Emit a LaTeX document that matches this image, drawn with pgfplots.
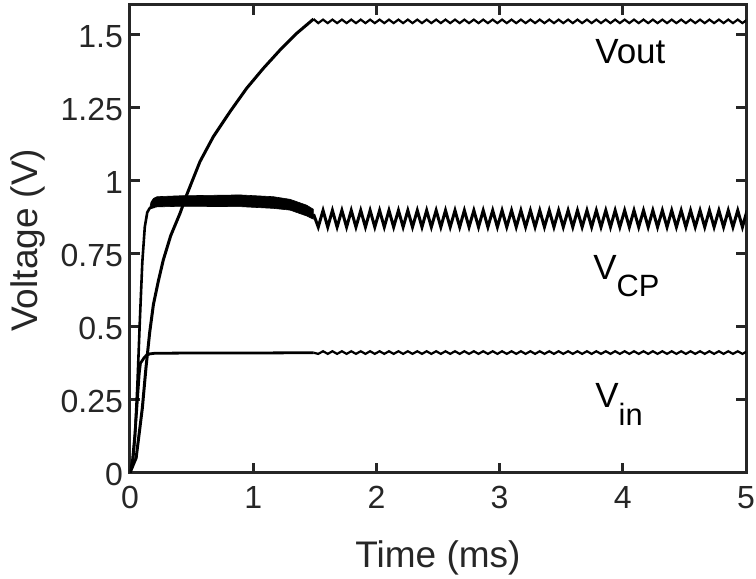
\documentclass[border=0pt]{standalone}
\usepackage{fontspec}
\setmainfont{Liberation Sans}
\usepackage{pgfplots}
\usepackage{pgfplotstable}
\pgfplotsset{compat=1.18}
\definecolor{axgray}{HTML}{262626}

% steady-state ripple (t in ms, voltages in V)
\pgfplotstableread{
t vcp vout vin
1.490 0.884 1.552 0.410
1.528 0.840 1.538 0.406
1.567 0.897 1.550 0.415
1.605 0.840 1.538 0.406
1.643 0.897 1.550 0.415
1.681 0.840 1.538 0.406
1.720 0.897 1.550 0.415
1.758 0.840 1.538 0.406
1.796 0.897 1.550 0.415
1.834 0.840 1.538 0.406
1.873 0.897 1.550 0.415
1.911 0.840 1.538 0.406
1.949 0.897 1.550 0.415
1.987 0.840 1.538 0.406
2.026 0.897 1.550 0.415
2.064 0.840 1.538 0.406
2.102 0.897 1.550 0.415
2.140 0.840 1.538 0.406
2.179 0.897 1.550 0.415
2.217 0.840 1.538 0.406
2.255 0.897 1.550 0.415
2.293 0.840 1.538 0.406
2.332 0.897 1.550 0.415
2.370 0.840 1.538 0.406
2.408 0.897 1.550 0.415
2.446 0.840 1.538 0.406
2.485 0.897 1.550 0.415
2.523 0.840 1.538 0.406
2.561 0.897 1.550 0.415
2.599 0.840 1.538 0.406
2.638 0.897 1.550 0.415
2.676 0.840 1.538 0.406
2.714 0.897 1.550 0.415
2.752 0.840 1.538 0.406
2.791 0.897 1.550 0.415
2.829 0.840 1.538 0.406
2.867 0.897 1.550 0.415
2.905 0.840 1.538 0.406
2.944 0.897 1.550 0.415
2.982 0.840 1.538 0.406
3.020 0.897 1.550 0.415
3.058 0.840 1.538 0.406
3.097 0.897 1.550 0.415
3.135 0.840 1.538 0.406
3.173 0.897 1.550 0.415
3.211 0.840 1.538 0.406
3.250 0.897 1.550 0.415
3.288 0.840 1.538 0.406
3.326 0.897 1.550 0.415
3.364 0.840 1.538 0.406
3.403 0.897 1.550 0.415
3.441 0.840 1.538 0.406
3.479 0.897 1.550 0.415
3.517 0.840 1.538 0.406
3.556 0.897 1.550 0.415
3.594 0.840 1.538 0.406
3.632 0.897 1.550 0.415
3.670 0.840 1.538 0.406
3.709 0.897 1.550 0.415
3.747 0.840 1.538 0.406
3.785 0.897 1.550 0.415
3.823 0.840 1.538 0.406
3.862 0.897 1.550 0.415
3.900 0.840 1.538 0.406
3.938 0.897 1.550 0.415
3.976 0.840 1.538 0.406
4.015 0.897 1.550 0.415
4.053 0.840 1.538 0.406
4.091 0.897 1.550 0.415
4.129 0.840 1.538 0.406
4.168 0.897 1.550 0.415
4.206 0.840 1.538 0.406
4.244 0.897 1.550 0.415
4.282 0.840 1.538 0.406
4.321 0.897 1.550 0.415
4.359 0.840 1.538 0.406
4.397 0.897 1.550 0.415
4.435 0.840 1.538 0.406
4.474 0.897 1.550 0.415
4.512 0.840 1.538 0.406
4.550 0.897 1.550 0.415
4.588 0.840 1.538 0.406
4.627 0.897 1.550 0.415
4.665 0.840 1.538 0.406
4.703 0.897 1.550 0.415
4.741 0.840 1.538 0.406
4.780 0.897 1.550 0.415
4.818 0.840 1.538 0.406
4.856 0.897 1.550 0.415
4.894 0.840 1.538 0.406
4.933 0.897 1.550 0.415
4.971 0.840 1.538 0.406
5.009 0.897 1.550 0.415
}\ripple

\begin{document}
\begin{tikzpicture}
\useasboundingbox (-65pt,-53.25pt) rectangle (313pt,236.25pt);
\begin{axis}[
  at={(0,0)}, anchor=south west,
  scale only axis, width=308pt, height=233.75pt,
  xmin=0, xmax=5, ymin=0, ymax=1.6,
  xtick={0,1,2,3,4,5},
  xticklabels={0,1,2,3,4,5},
  ytick={0,0.25,0.5,0.75,1,1.25,1.5},
  yticklabels={0,0.25,0.5,0.75,1,1.25,1.5},
  axis line style={axgray, line width=1.5pt},
  every tick/.style={axgray, line width=1.5pt},
  major tick length=5pt,
  tick align=inside,
  tick label style={font=\fontsize{16}{18}\selectfont, text=axgray},
  xticklabel style={yshift=-3.5pt},
  yticklabel style={yshift=-1pt},
  xlabel={Time (ms)}, ylabel={Voltage (V)},
  label style={font=\fontsize{18.5}{20}\selectfont, text=axgray},
  xlabel style={at={(axis description cs:0.5,-0.182)}, anchor=center},
  ylabel style={at={(axis description cs:-0.1656,0.497)}, anchor=center},
]
% V_CP thick band (fast ripple during start-up)
\addplot[fill=black, draw=black, line width=0.3pt] coordinates {
(0.16,0.905) (0.17,0.925) (0.19,0.938) (0.22,0.944) (0.4,0.947) (0.893,0.950) (1.163,0.944) (1.299,0.935) (1.434,0.915) (1.488,0.901)
(1.488,0.867) (1.434,0.878) (1.299,0.898) (1.163,0.904) (0.893,0.910) (0.4,0.911) (0.22,0.909) (0.18,0.906) (0.16,0.905)
} -- cycle;
% V_CP start-up
\addplot[black, line width=1.3pt, line join=round] coordinates {
(0,0) (0.02,0.02) (0.04,0.12) (0.06,0.3) (0.08,0.52) (0.1,0.72) (0.12,0.84) (0.14,0.89) (0.16,0.905) (0.2,0.91)
};
% Vout start-up
\addplot[black, line width=1.5pt, line join=round] coordinates {
(0,0) (0.05,0.05) (0.1,0.22) (0.13,0.36) (0.16,0.48) (0.19,0.575) (0.23,0.655) (0.27,0.727) (0.33,0.81) (0.406,0.887) (0.46,0.95) (0.568,1.064) (0.676,1.149) (0.812,1.235) (0.947,1.315) (1.082,1.383) (1.218,1.446) (1.353,1.503) (1.49,1.552)
};
% Vin start-up
\addplot[black, line width=1.4pt, line join=round] coordinates {
(0,0) (0.02,0.04) (0.04,0.13) (0.06,0.25) (0.075,0.34) (0.085,0.375) (0.095,0.38) (0.11,0.39) (0.13,0.40) (0.16,0.406) (0.2,0.408) (0.5,0.409) (1.0,0.409) (1.49,0.410)
};
% ripple
\addplot[black, line width=1.5pt, line join=miter] table[x=t, y=vcp]{\ripple};
\addplot[black, line width=1.1pt, line join=miter] table[x=t, y=vout]{\ripple};
\addplot[black, line width=1.1pt, line join=miter] table[x=t, y=vin]{\ripple};
% curve labels
\node[anchor=base west, inner sep=0pt, font=\fontsize{17.5}{18}\selectfont] at (axis cs:3.774,1.401) {Vout};
\node[anchor=base west, inner sep=0pt, font=\fontsize{17.5}{18}\selectfont] at (axis cs:3.758,0.659) {V\raisebox{-8.5pt}{\fontsize{15.4}{16}\selectfont CP}};
\node[anchor=base west, inner sep=0pt, font=\fontsize{17.5}{18}\selectfont] at (axis cs:3.774,0.221) {V\raisebox{-9pt}{\fontsize{15.4}{16}\selectfont in}};
\end{axis}
\end{tikzpicture}
\end{document}
